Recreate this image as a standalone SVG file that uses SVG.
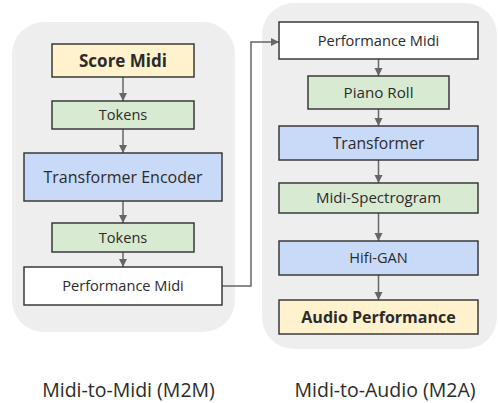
<svg xmlns="http://www.w3.org/2000/svg" width="498" height="403" viewBox="0 0 498 403">
<style>
.bg{fill:#eeeeee}
.n{stroke:#3a3a3a;stroke-width:1.5}
.y{fill:#fff2cc}.g{fill:#d9ead3}.b{fill:#c9daf8}.w{fill:#ffffff}
text{font-family:"Open Sans","Noto Sans",sans-serif;fill:#2b2b2b;text-anchor:middle}
.bold{font-weight:bold}
.c{stroke:#666666;stroke-width:1.5;fill:none}
</style>
<defs>
<marker id="ah" viewBox="0 0 10 10" refX="10" refY="5" markerWidth="5.5" markerHeight="5.5" orient="auto" markerUnits="strokeWidth">
<path d="M0,0 L10,5 L0,10 z" fill="#666666"/>
</marker>
</defs>
<rect class="bg" x="12" y="22" width="223" height="310" rx="32"/>
<rect class="bg" x="262" y="3" width="235" height="346" rx="32"/>
<g id="connectors">
<line class="c" x1="123" y1="77" x2="123" y2="101" marker-end="url(#ah)"/>
<line class="c" x1="123" y1="129" x2="123" y2="153" marker-end="url(#ah)"/>
<line class="c" x1="123" y1="201" x2="123" y2="223" marker-end="url(#ah)"/>
<line class="c" x1="123" y1="252" x2="123" y2="267" marker-end="url(#ah)"/>
<path class="c" d="M222,286 H251 V42 H279" marker-end="url(#ah)"/>
<line class="c" x1="378.5" y1="59" x2="378.5" y2="76" marker-end="url(#ah)"/>
<line class="c" x1="378.5" y1="109" x2="378.5" y2="126" marker-end="url(#ah)"/>
<line class="c" x1="378.5" y1="160" x2="378.5" y2="183" marker-end="url(#ah)"/>
<line class="c" x1="378.5" y1="213" x2="378.5" y2="241" marker-end="url(#ah)"/>
<line class="c" x1="378.5" y1="275" x2="378.5" y2="300" marker-end="url(#ah)"/>
</g>
<g id="score-midi"><rect class="n y" x="52" y="44" width="142" height="33"/><text class="bold" x="123" y="66.5" font-size="17">Score Midi</text></g>
<g id="tokens-1"><rect class="n g" x="52" y="101" width="142" height="28"/><text x="123" y="120" font-size="14.6">Tokens</text></g>
<g id="transformer-encoder"><rect class="n b" x="24" y="153" width="198" height="48"/><text x="123" y="183" font-size="16">Transformer Encoder</text></g>
<g id="tokens-2"><rect class="n g" x="52" y="223" width="142" height="29"/><text x="123" y="242.5" font-size="14.6">Tokens</text></g>
<g id="performance-midi-left"><rect class="n w" x="24" y="267" width="198" height="38"/><text x="123" y="291" font-size="14.6">Performance Midi</text></g>
<g id="performance-midi-right"><rect class="n w" x="279" y="22" width="199" height="37"/><text x="378.5" y="45.5" font-size="14.6">Performance Midi</text></g>
<g id="piano-roll"><rect class="n g" x="308" y="76" width="141" height="33"/><text x="378.5" y="97.5" font-size="15.2">Piano Roll</text></g>
<g id="transformer"><rect class="n b" x="279" y="126" width="199" height="34"/><text x="378.5" y="148.5" font-size="15.7">Transformer</text></g>
<g id="midi-spectrogram"><rect class="n g" x="279" y="183" width="199" height="30"/><text x="378.5" y="203" font-size="15">Midi-Spectrogram</text></g>
<g id="hifi-gan"><rect class="n b" x="279" y="241" width="199" height="34"/><text x="378.5" y="263" font-size="14.6">Hifi-GAN</text></g>
<g id="audio-performance"><rect class="n y" x="279" y="300" width="199" height="34"/><text class="bold" x="378.5" y="322.5" font-size="16">Audio Performance</text></g>
<text x="128.5" y="397" font-size="19.5">Midi-to-Midi (M2M)</text>
<text x="385" y="397" font-size="19.5">Midi-to-Audio (M2A)</text>
</svg>
